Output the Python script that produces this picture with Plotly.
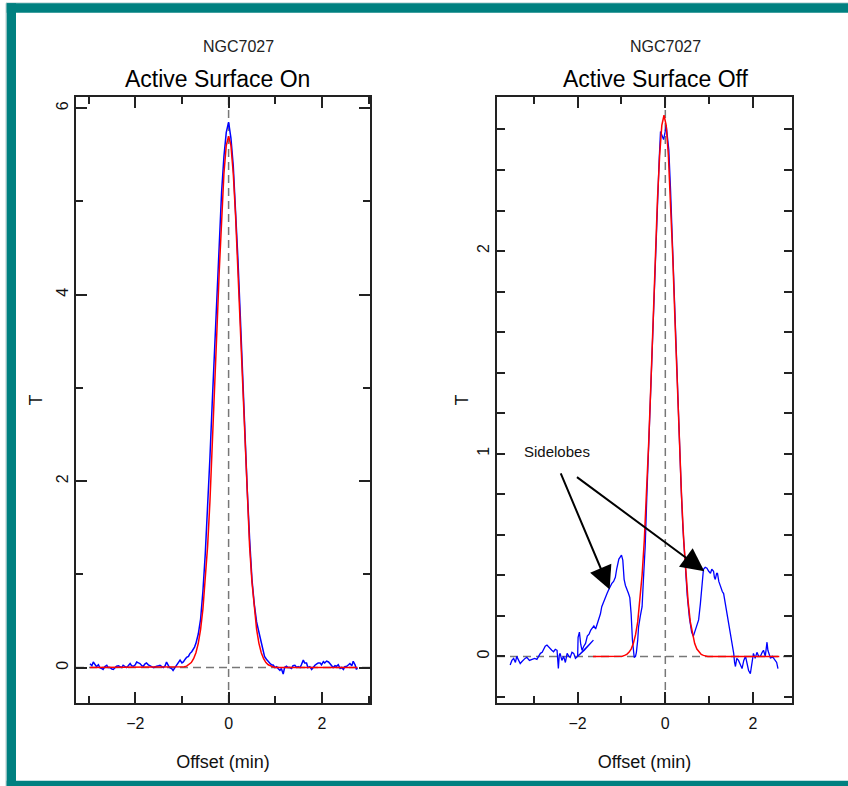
import plotly.graph_objects as go

# ---------------- data: Active Surface On (left) ----------------
on_blue_x = [-2.97, -2.93, -2.90, -2.86, -2.83, -2.79, -2.76, -2.72, -2.69, -2.65, -2.61, -2.58, -2.54,
             -2.50, -2.47, -2.43, -2.40, -2.36, -2.33, -2.29, -2.26, -2.22, -2.19, -2.15, -2.11, -2.08,
             -2.04, -2.00, -1.97, -1.93, -1.90, -1.86, -1.83, -1.79, -1.76, -1.72, -1.69, -1.65, -1.61,
             -1.58, -1.54, -1.50, -1.47, -1.43, -1.40, -1.36, -1.33, -1.29, -1.26, -1.22, -1.19, -1.15,
             -1.11, -1.08, -1.04, -1.00, -0.97, -0.93, -0.90, -0.86, -0.83, -0.79, -0.76, -0.73, -0.70,
             -0.65, -0.60, -0.55, -0.50, -0.45, -0.40, -0.35, -0.30, -0.25, -0.20, -0.15, -0.10, -0.05,
             0.00, 0.05, 0.10, 0.15, 0.20, 0.25, 0.30, 0.35, 0.40, 0.45, 0.50, 0.55, 0.60, 0.64, 0.67,
             0.71, 0.74, 0.77, 0.81, 0.84, 0.88, 0.92, 0.96, 0.99, 1.03, 1.06, 1.10, 1.13, 1.17, 1.20,
             1.24, 1.27, 1.31, 1.35, 1.38, 1.42, 1.46, 1.49, 1.53, 1.56, 1.60, 1.63, 1.67, 1.70, 1.74,
             1.78, 1.81, 1.85, 1.89, 1.92, 1.96, 1.99, 2.03, 2.06, 2.10, 2.14, 2.17, 2.21, 2.24, 2.28,
             2.31, 2.35, 2.39, 2.42, 2.46, 2.49, 2.53, 2.57, 2.60, 2.64, 2.67, 2.71, 2.74, 2.76]
on_blue_t = [0.04, 0.02, 0.06, 0.03, 0.01, 0.03, 0.00, -0.01, -0.02, 0.01, 0.025, 0.00, 0.00,
             -0.015, -0.02, 0.00, 0.014, 0.02, 0.007, 0.00, 0.025, 0.01, 0.00, 0.02, 0.043, 0.02,
             0.014, 0.03, 0.06, 0.05, 0.043, 0.02, 0.014, 0.04, 0.05, 0.03, 0.025, 0.01, 0.00,
             0.01, 0.014, 0.02, 0.025, 0.01, 0.00, 0.02, 0.06, 0.02, 0.00, -0.01, -0.03, 0.00,
             0.025, 0.05, 0.08, 0.05, 0.06, 0.09, 0.11, 0.12, 0.15, 0.17, 0.19, 0.22, 0.26,
             0.36, 0.52, 0.82, 1.22, 1.70, 2.25, 2.85, 3.45, 4.08, 4.65, 5.10, 5.48, 5.74,
             5.85, 5.68, 5.38, 4.93, 4.38, 3.78, 3.12, 2.48, 1.90, 1.38, 0.95, 0.68, 0.49, 0.40, 0.33,
             0.24, 0.16, 0.12, 0.09, 0.07, 0.05, 0.03, 0.025, 0.00, 0.01, -0.01, -0.03, -0.01, -0.07, 0.00,
             0.014, 0.00, 0.00, -0.01, 0.02, 0.025, 0.00, 0.01, 0.00, 0.03, 0.08, 0.05, 0.05, 0.00, 0.01,
             -0.02, 0.00, 0.025, 0.04, 0.05, 0.05, 0.03, 0.064, 0.05, 0.07, 0.06, 0.043, 0.02, 0.00, 0.02,
             0.014, 0.03, -0.01, 0.00, -0.02, 0.01, 0.014, 0.03, 0.043, 0.02, 0.068, 0.03, -0.02, 0.00]

on_red_x = [-2.97, -1.00, -0.95, -0.90, -0.85, -0.80, -0.75, -0.70, -0.65, -0.60, -0.55, -0.50, -0.45,
            -0.40, -0.35, -0.30, -0.25, -0.20, -0.15, -0.10, -0.05, 0.00, 0.05, 0.10, 0.15, 0.20,
            0.25, 0.30, 0.35, 0.40, 0.45, 0.50, 0.55, 0.60, 0.65, 0.70, 0.75, 0.80, 0.85, 0.90,
            0.95, 1.00, 2.76]
on_red_t = [0.00, 0.00, 0.008, 0.015, 0.03, 0.054, 0.095, 0.16, 0.26, 0.41, 0.63, 0.92, 1.30,
            1.78, 2.34, 2.96, 3.62, 4.26, 4.84, 5.30, 5.60, 5.70, 5.60, 5.30, 4.84, 4.26,
            3.62, 2.96, 2.34, 1.78, 1.30, 0.92, 0.63, 0.41, 0.26, 0.16, 0.095, 0.054, 0.03, 0.015,
            0.008, 0.00, 0.00]

# ---------------- data: Active Surface Off (right) ----------------
off_blue_x = [-3.54, -3.50, -3.46, -3.42, -3.39, -3.35, -3.31, -3.27, -3.24, -3.20, -3.16, -3.10, -3.04,
              -2.98, -2.93, -2.89, -2.85, -2.81, -2.78, -2.74, -2.70, -2.66, -2.63, -2.59, -2.55, -2.51,
              -2.47, -2.44, -2.42, -2.40, -2.36, -2.32, -2.28, -2.24, -2.20, -2.17, -2.13, -2.09, -2.05,
              -1.85, -1.64, -2.00, -1.99, -1.96, -1.93, -1.90, -1.86, -1.82, -1.78, -1.74, -1.70, -1.67,
              -1.63, -1.59, -1.55, -1.52, -1.48, -1.45, -1.41, -1.37, -1.33, -1.29, -1.25, -1.22, -1.18,
              -1.14, -1.11, -1.09, -1.06, -1.03, -1.00, -0.97, -0.94, -0.91, -0.87, -0.84, -0.81, -0.78,
              -0.75, -0.73, -0.71, -0.68, -0.66, -0.63, -0.61, -0.57, -0.53, -0.50, -0.46, -0.42, -0.38,
              -0.34, -0.30, -0.26, -0.22, -0.18, -0.14, -0.11, -0.07, -0.04, -0.01, 0.02, 0.05, 0.08,
              0.12, 0.16, 0.20, 0.24, 0.28, 0.32, 0.36, 0.40, 0.45, 0.50, 0.55, 0.60, 0.64, 0.68,
              0.72, 0.76, 0.80, 0.84, 0.87, 0.91, 0.95, 0.99, 1.03, 1.06, 1.10, 1.12, 1.14, 1.17,
              1.19, 1.22, 1.26, 1.30, 1.33, 1.37, 1.41, 1.45, 1.48, 1.52, 1.56, 1.58, 1.60, 1.63,
              1.67, 1.71, 1.75, 1.79, 1.83, 1.87, 1.90, 1.94, 1.97, 2.01, 2.05, 2.09, 2.13, 2.17,
              2.21, 2.24, 2.28, 2.32, 2.34, 2.36, 2.40, 2.44, 2.48, 2.51, 2.54, 2.57]
off_blue_t = [-0.043, -0.02, -0.01, -0.03, 0.00, -0.02, -0.035, -0.025, -0.018, -0.01, -0.005, -0.02, -0.015,
              -0.01, -0.015, 0.00, 0.015, 0.02, 0.03, 0.05, 0.056, 0.045, 0.04, 0.03, 0.023, 0.035,
              0.03, -0.06, 0.005, 0.015, -0.02, 0.00, -0.03, 0.015, 0.00, -0.005, 0.02, 0.015, -0.01,
              0.03, 0.08, 0.00, 0.094, 0.12, 0.06, 0.03, 0.05, 0.064, 0.10, 0.11, 0.13, 0.14,
              0.15, 0.135, 0.16, 0.18, 0.21, 0.245, 0.27, 0.29, 0.31, 0.33, 0.35, 0.36, 0.37,
              0.39, 0.43, 0.46, 0.48, 0.49, 0.50, 0.475, 0.38, 0.35, 0.33, 0.31, 0.29, 0.21,
              0.08, 0.02, -0.005, 0.00, 0.02, 0.08, 0.146, 0.20, 0.245, 0.377, 0.54, 0.80, 1.05,
              1.30, 1.55, 1.80, 2.05, 2.28, 2.45, 2.59, 2.56, 2.55, 2.58, 2.62, 2.56, 2.50,
              2.30, 2.05, 1.80, 1.52, 1.30, 1.04, 0.84, 0.64, 0.45, 0.30, 0.19, 0.12, 0.10, 0.13,
              0.15, 0.18, 0.26, 0.34, 0.43, 0.44, 0.435, 0.42, 0.41, 0.43, 0.42, 0.39, 0.38, 0.41,
              0.41, 0.37, 0.34, 0.32, 0.31, 0.26, 0.21, 0.16, 0.11, 0.06, 0.015, -0.03, -0.05, -0.01,
              -0.02, -0.04, -0.06, -0.02, 0.00, -0.04, -0.07, -0.085, -0.03, 0.015, -0.01, 0.02, 0.00, 0.00,
              0.02, 0.03, 0.00, 0.07, 0.03, 0.015, -0.01, 0.00, -0.01, -0.02, -0.03, -0.06]

off_red_x = [-1.65, -1.03, -0.98, -0.93, -0.88, -0.83, -0.78, -0.73, -0.68, -0.63, -0.58, -0.53, -0.48,
             -0.43, -0.38, -0.33, -0.28, -0.23, -0.18, -0.13, -0.08, -0.03, 0.02, 0.07, 0.12, 0.17,
             0.22, 0.27, 0.32, 0.37, 0.42, 0.47, 0.52, 0.57, 0.62, 0.67, 0.72, 0.77, 0.82, 0.87,
             0.92, 0.97, 2.60]
off_red_t = [0.00, 0.00, 0.001, 0.005, 0.01, 0.02, 0.036, 0.063, 0.106, 0.17, 0.27, 0.40, 0.57,
             0.79, 1.05, 1.34, 1.66, 1.97, 2.25, 2.47, 2.62, 2.67, 2.62, 2.47, 2.25, 1.97,
             1.66, 1.34, 1.05, 0.79, 0.57, 0.40, 0.27, 0.17, 0.106, 0.063, 0.036, 0.02, 0.01, 0.005,
             0.001, 0.00, 0.00]

# text
source_name = "NGC7027"
panel_titles = ["Active Surface On", "Active Surface Off"]
x_title = "Offset (min)"
y_title = "T"
sidelobe_label = "Sidelobes"
# arrows: (tip x, tip T, tail x, tail T) in right-panel data units
sidelobe_arrows = [(-1.27, 0.33, -2.40, 0.91), (0.89, 0.42, -2.05, 0.89)]

FONT = "Liberation Sans, Arial, sans-serif"
W, H = 848, 786

fig = go.Figure()
fig.add_trace(go.Scatter(x=on_blue_x, y=on_blue_t, mode="lines", line=dict(color="#0000ff", width=1.5),
                         xaxis="x", yaxis="y", showlegend=False))
fig.add_trace(go.Scatter(x=on_red_x, y=on_red_t, mode="lines", line=dict(color="#ff0000", width=1.5),
                         xaxis="x", yaxis="y", showlegend=False))
fig.add_trace(go.Scatter(x=off_blue_x, y=off_blue_t, mode="lines", line=dict(color="#0000ff", width=1.3),
                         xaxis="x2", yaxis="y2", showlegend=False))
fig.add_trace(go.Scatter(x=off_red_x, y=off_red_t, mode="lines", line=dict(color="#ff0000", width=1.5),
                         xaxis="x2", yaxis="y2", showlegend=False))

ydom = [1 - 703 / H, 1 - 97 / H]
axis_common = dict(showline=True, linecolor="#222", linewidth=2, mirror="ticks", ticks="inside",
                   tickcolor="#222", tickwidth=1.5, showgrid=False, zeroline=False,
                   tickfont=dict(family=FONT, size=16, color="#111"),
                   title_font=dict(family=FONT, size=18, color="#111"))
minor_x = dict(dtick=1, ticklen=7, ticks="inside", tickcolor="#222", tickwidth=1.5)

fig.update_layout(
    width=W, height=H, margin=dict(l=0, r=0, t=0, b=0),
    paper_bgcolor="white", plot_bgcolor="white",
    xaxis=dict(domain=[76 / W, 370 / W], range=[-3.27, 3.03], tick0=0, dtick=2, ticklen=11,
               minor=minor_x, ticklabelstandoff=5,
               title=dict(text=x_title, standoff=24), anchor="y", **axis_common),
    yaxis=dict(domain=ydom, range=[-0.38, 6.12], tick0=0, dtick=2, ticklen=11, tickangle=-90,
               minor=dict(dtick=1, ticklen=7, ticks="inside", tickcolor="#222", tickwidth=1.5),
               title=dict(text=y_title, standoff=6), anchor="x", ticklabelstandoff=0, **axis_common),
    xaxis2=dict(domain=[497 / W, 792 / W], range=[-3.84, 2.89], tick0=0, dtick=2, ticklen=11,
                minor=minor_x, ticklabelstandoff=5,
                title=dict(text=x_title, standoff=24), anchor="y2", **axis_common),
    yaxis2=dict(domain=ydom, range=[-0.23, 2.76], tick0=0, dtick=1, ticklen=8, tickangle=-90,
                minor=dict(dtick=0.2, ticklen=8, ticks="inside", tickcolor="#222", tickwidth=1.5),
                title=dict(text=y_title, standoff=1), anchor="x2", ticklabelstandoff=0, **axis_common),
)

shapes = []
for xr, yr in (("x", "y"), ("x2", "y2")):
    shapes.append(dict(type="line", xref=xr, yref=yr + " domain", x0=0, x1=0, y0=0, y1=1,
                       line=dict(color="#777", width=1.5, dash="8px,5px"), layer="below"))
    shapes.append(dict(type="line", xref=xr + " domain", yref=yr, x0=0, x1=1, y0=0, y1=0,
                       line=dict(color="#777", width=1.5, dash="8px,5px"), layer="below"))

# teal frame
TEAL = "#008080"
def px_rect(x0, y0, x1, y1, color):
    return dict(type="rect", xref="paper", yref="paper", x0=x0 / W, x1=x1 / W,
                y0=1 - y1 / H, y1=1 - y0 / H, fillcolor=color, line=dict(width=0), layer="above")
shapes.append(px_rect(6, 2.5, W, 3.5, "#a9c9cc"))
shapes.append(px_rect(5.5, 3.3, 6.7, H, "#b8cccc"))
shapes.append(px_rect(6.7, 3.3, W, 12.7, TEAL))
shapes.append(px_rect(6.7, 3.3, 16, H, TEAL))
shapes.append(px_rect(6.7, 780.7, W, H, TEAL))
fig.update_layout(shapes=shapes)

annotations = []
for cx_name, cx_title, title in ((239, 217, panel_titles[0]), (665, 656, panel_titles[1])):
    annotations.append(dict(text=source_name, xref="paper", yref="paper", x=cx_name / W, y=1 - 46 / H,
                            showarrow=False, xanchor="center", yanchor="middle",
                            font=dict(family=FONT, size=16, color="#222")))
    annotations.append(dict(text=title, xref="paper", yref="paper", x=cx_title / W, y=1 - 79 / H,
                            showarrow=False, xanchor="center", yanchor="middle",
                            font=dict(family=FONT, size=23, color="#000")))
annotations.append(dict(text=sidelobe_label, xref="x2", yref="y2", x=-2.47, y=1.01, showarrow=False,
                        xanchor="center", yanchor="middle", font=dict(family=FONT, size=15, color="#111")))
for tx, ty, ax, ay in sidelobe_arrows:
    annotations.append(dict(text="", xref="x2", yref="y2", x=tx, y=ty, axref="x2", ayref="y2",
                            ax=ax, ay=ay, showarrow=True, arrowhead=2, arrowsize=2.3, arrowwidth=2,
                            arrowcolor="#000"))
fig.update_layout(annotations=annotations)

fig.write_html("out.html", config={"displayModeBar": False},
               post_script="document.body.style.margin='0px';document.body.style.overflow='hidden';")
